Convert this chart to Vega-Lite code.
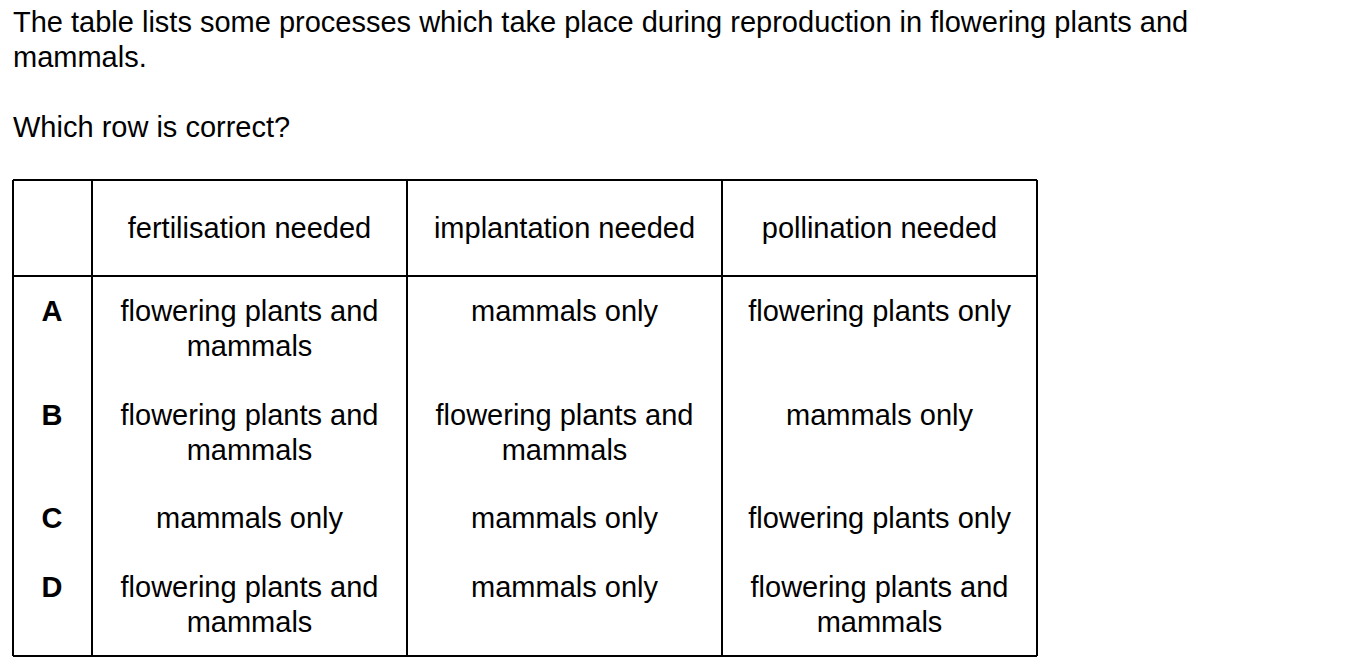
{
"$schema":"https://vega.github.io/schema/vega-lite/v6.json",
"width":1345,"height":670,"padding":0,
"autosize":{"type":"fit","contains":"padding"},
"background":"white",
"config":{"view":{"stroke":null}},
"datasets":{
"rules":[
{"x":13,"y":180,"x2":1037,"y2":180},{"x":13,"y":276,"x2":1037,"y2":276},{"x":13,"y":656,"x2":1037,"y2":656},
{"x":13,"y":180,"x2":13,"y2":656},{"x":92,"y":180,"x2":92,"y2":656},{"x":407,"y":180,"x2":407,"y2":656},{"x":722,"y":180,"x2":722,"y2":656},{"x":1037,"y":180,"x2":1037,"y2":656}],
"left":[
{"x":13,"y":23,"t":"The table lists some processes which take place during reproduction in flowering plants and"},
{"x":13,"y":58,"t":"mammals."},
{"x":13,"y":128,"t":"Which row is correct?"}],
"labels":[{"x":52,"y":312,"t":"A"},{"x":52,"y":416,"t":"B"},{"x":52,"y":519,"t":"C"},{"x":52,"y":588,"t":"D"}],
"cells":[
{"x":249.5,"y":229,"t":"fertilisation needed"},{"x":564.5,"y":229,"t":"implantation needed"},{"x":879.5,"y":229,"t":"pollination needed"},
{"x":249.5,"y":312,"t":"flowering plants and"},{"x":249.5,"y":347,"t":"mammals"},{"x":564.5,"y":312,"t":"mammals only"},{"x":879.5,"y":312,"t":"flowering plants only"},
{"x":249.5,"y":416,"t":"flowering plants and"},{"x":249.5,"y":451,"t":"mammals"},{"x":564.5,"y":416,"t":"flowering plants and"},{"x":564.5,"y":451,"t":"mammals"},{"x":879.5,"y":416,"t":"mammals only"},
{"x":249.5,"y":519,"t":"mammals only"},{"x":564.5,"y":519,"t":"mammals only"},{"x":879.5,"y":519,"t":"flowering plants only"},
{"x":249.5,"y":588,"t":"flowering plants and"},{"x":249.5,"y":623,"t":"mammals"},{"x":564.5,"y":588,"t":"mammals only"},{"x":879.5,"y":588,"t":"flowering plants and"},{"x":879.5,"y":623,"t":"mammals"}]
},
"resolve":{"scale":{"x":"shared","y":"shared"}},
"layer":[
{"data":{"name":"rules"},"mark":{"type":"rule","color":"black","strokeWidth":2},
 "encoding":{"x":{"field":"x","type":"quantitative","scale":{"domain":[0,1345],"nice":false,"zero":false},"axis":null},"y":{"field":"y","type":"quantitative","scale":{"domain":[670,0],"nice":false,"zero":false},"axis":null},"x2":{"field":"x2"},"y2":{"field":"y2"}}},
{"data":{"name":"left"},"mark":{"type":"text","align":"left","baseline":"middle","font":"Liberation Sans","fontSize":29,"color":"black"},
 "encoding":{"x":{"field":"x","type":"quantitative","axis":null},"y":{"field":"y","type":"quantitative","axis":null},"text":{"field":"t"}}},
{"data":{"name":"labels"},"mark":{"type":"text","align":"center","baseline":"middle","font":"Liberation Sans","fontSize":29,"fontWeight":"bold","color":"black"},
 "encoding":{"x":{"field":"x","type":"quantitative","axis":null},"y":{"field":"y","type":"quantitative","axis":null},"text":{"field":"t"}}},
{"data":{"name":"cells"},"mark":{"type":"text","align":"center","baseline":"middle","font":"Liberation Sans","fontSize":29,"color":"black"},
 "encoding":{"x":{"field":"x","type":"quantitative","axis":null},"y":{"field":"y","type":"quantitative","axis":null},"text":{"field":"t"}}}
]
}
